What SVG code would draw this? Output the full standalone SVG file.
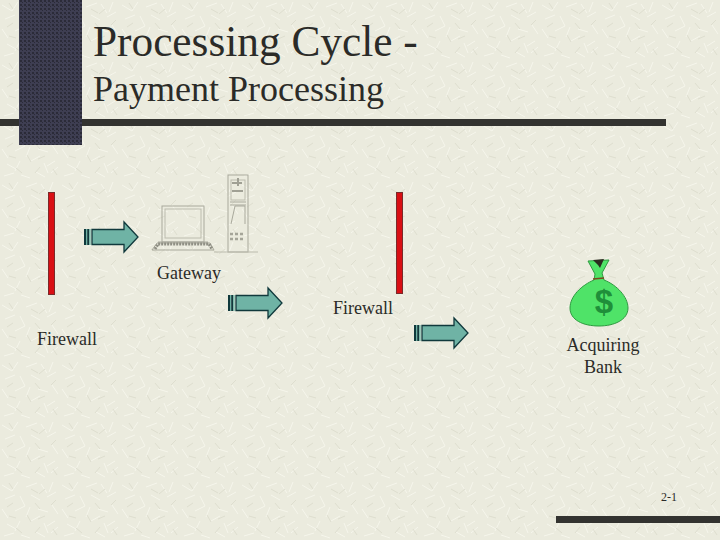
<svg xmlns="http://www.w3.org/2000/svg" width="720" height="540" viewBox="0 0 720 540">
<style>
.t{font-family:"Liberation Serif","Times New Roman",serif;fill:#2b2b28}
.l{font-size:18px;text-anchor:middle}
.ar{fill:#6fb3a5;stroke:#10393c;stroke-width:1.3}
.st{fill:#10393c}
.stw{fill:#6fb3a5}
.pc{fill:none;stroke:#a9a99c;stroke-width:1}
.pc2{fill:none;stroke:#bcbcae;stroke-width:1}
.fw{fill:#d90f14;stroke:#7a2a2a;stroke-width:1}
</style>
<defs>
<pattern id="tex" width="60" height="60" patternUnits="userSpaceOnUse">
<rect width="60" height="60" fill="#ebebde"/>
<g stroke="#f6f6ec" stroke-width="1" fill="none">
<path d="M2 5l10 6M18 2l-6 9M26 7l11-4M41 4l6 9M53 2l-4 10M5 19l10-4M20 16l5 10M31 15l9 5M47 17l9-5M2 29l6 9M15 31l10-5M30 27l-4 10M38 29l10 3M52 25l6 9M7 44l9 5M20 41l-5 10M31 41l9-5M44 43l4 10M55 41l-8 5M4 56l10-3M21 55l9 3M36 52l9 5M51 53l7-6"/>
</g>
<g stroke="#dedecf" stroke-width="1" fill="none">
<path d="M9 3l4 6M31 9l7 4M45 9l-6 5M13 23l-6 4M35 23l5 6M56 20l-5 5M9 36l7 2M27 35l4 7M45 36l-7 3M16 48l6 5M40 47l-5 6M53 49l4 6"/>
</g>
</pattern>
<pattern id="dots" width="4" height="4" patternUnits="userSpaceOnUse">
<rect width="4" height="4" fill="#3e3e52"/>
<rect x="0" y="0" width="2" height="2" fill="#2b2b38"/>
<rect x="2" y="2" width="1" height="1" fill="#2b2b38"/>
</pattern>
<g id="arrow">
<rect class="st" x="0" y="-8" width="2" height="16"/>
<rect class="stw" x="2" y="-8" width="1.2" height="16"/>
<rect class="st" x="3.2" y="-8" width="2" height="16"/>
<rect class="stw" x="5.2" y="-8" width="1.4" height="16"/>
<path class="ar" d="M8 -7.5H40V-15L54 0L40 15V7.5H8Z"/>
</g>
</defs>
<rect id="background" width="720" height="540" fill="url(#tex)"/>
<rect x="0" y="119" width="666" height="7" fill="#333330"/>
<rect x="19" y="0" width="63" height="145" fill="url(#dots)"/>
<rect x="556" y="516" width="164" height="7" fill="#333330"/>
<text class="t" x="93" y="56" font-size="43.300">Processing Cycle -</text>
<text class="t" x="93" y="101" font-size="36">Payment Processing</text>
<g id="firewall-left">
<rect class="fw" x="48.500" y="192.500" width="6" height="102"/>
<text class="t l" x="67" y="345">Firewall</text>
</g>
<g id="gateway">
<rect class="pc" x="162" y="206" width="42" height="36"/>
<rect class="pc2" x="165" y="209" width="36" height="29"/>
<path class="pc" d="M158 242H208M152 250L157 243H210L214 250Z"/>
<path d="M155 249L158 244H209L212 249" fill="none" stroke="#8f8f84" stroke-width="3" stroke-dasharray="2 1"/>
<rect class="pc" x="228" y="175" width="20" height="77"/>
<rect class="pc2" x="231" y="180" width="14" height="20"/>
<path d="M232 183h10M232 191h11M238 178v8" stroke="#a0a094" stroke-width="2" fill="none"/>
<path class="pc" d="M230 202H246M230 205H246M231 224L235 206H245V224"/>
<path d="M230 234h15M230 239h15" stroke="#a5a599" stroke-width="2.500" stroke-dasharray="3 2" fill="none"/>
<path class="pc2" d="M214 252H258"/>
<text class="t l" x="189" y="279">Gateway</text>
</g>
<g id="firewall-right">
<rect class="fw" x="396.500" y="192.500" width="6" height="101"/>
<text class="t l" x="363" y="314">Firewall</text>
</g>
<g id="acquiring-bank">
<path d="M588 261L609 260L602 273L604 280C617 285 628 297 628 308C628 320 614 326 599 326C583 326 570 320 570 308C570 296 582 285 594 280L595 274Z" fill="#4fe368" stroke="#2e9a40" stroke-width="1"/>
<path d="M593 279L604 278" stroke="#7a4a20" stroke-width="1.500"/>
<path d="M593 260L604 259L600 268L598 265Z" fill="#2b2b20"/>
<text x="604" y="313" font-family="'Liberation Sans',Arial,sans-serif" font-size="33" font-weight="700" fill="#1f8f3a" text-anchor="middle">$</text>
<text class="t l" x="603" y="351">Acquiring</text>
<text class="t l" x="603" y="373">Bank</text>
</g>
<g id="connectors">
<use href="#arrow" x="84" y="237"/>
<use href="#arrow" x="228" y="303"/>
<use href="#arrow" x="414" y="333"/>
</g>
<text class="t" x="661" y="501" font-size="12">2-1</text>
</svg>
